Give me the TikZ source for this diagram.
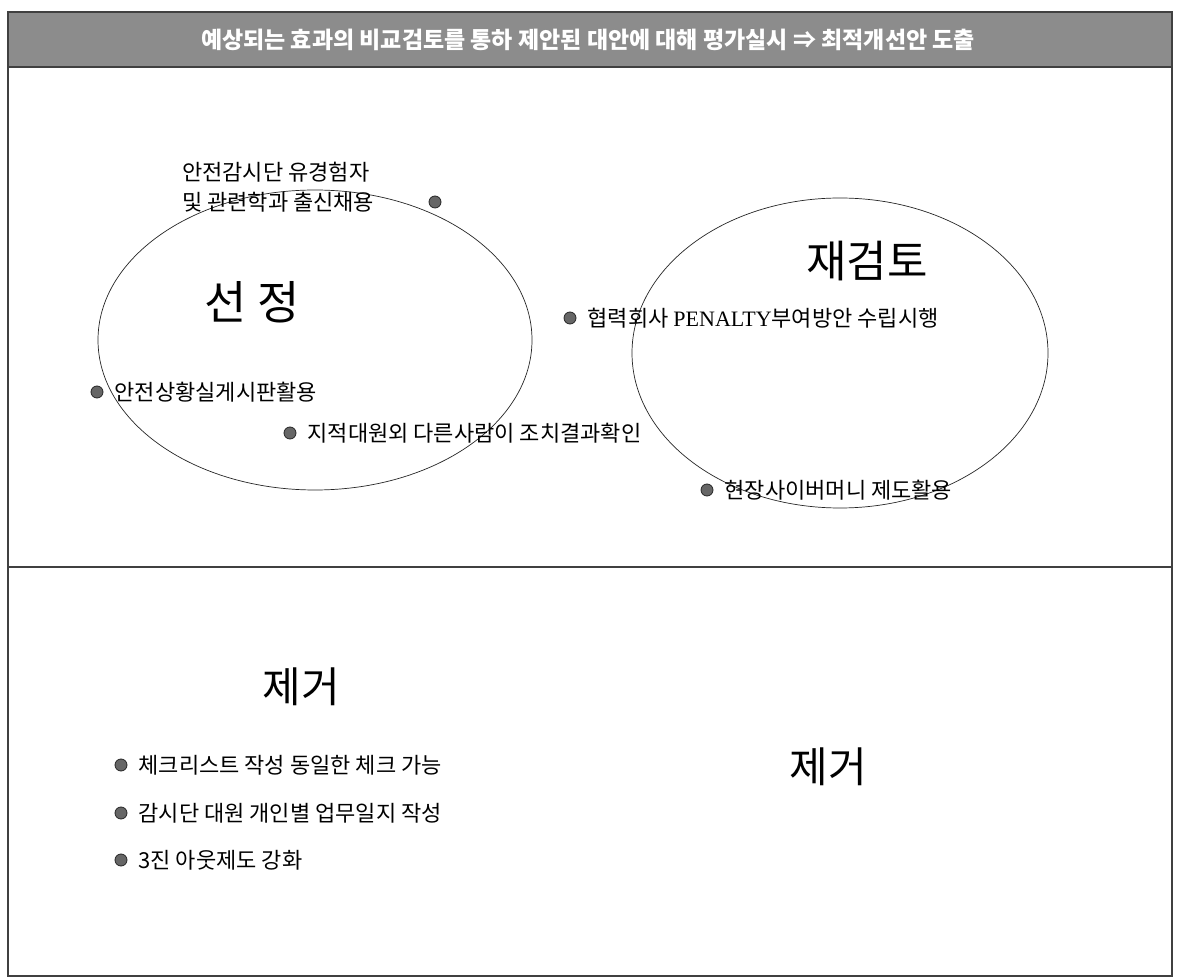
\documentclass[tikz,border=0pt]{standalone}
\usepackage{fontspec}
\setmainfont{Noto Sans CJK KR}
\newfontfamily\serifen{Liberation Serif}
\usetikzlibrary{positioning}

\begin{document}
\begin{tikzpicture}[x=1pt,y=1pt,
  dot/.style={circle,fill=black!60,draw=black!85,line width=0.8pt,minimum size=12pt,inner sep=0pt},
  item/.style={font=\fontsize{22}{30}\selectfont,inner sep=0pt,anchor=west},
  bigword/.style={font=\fontsize{44}{50}\selectfont,inner sep=0pt},
  ring/.style={draw=black!85,line width=0.7pt},
  frameline/.style={draw=black!75,line width=1.2pt}]
\useasboundingbox (0,0) rectangle (1177,978);
\fill[white] (0,0) rectangle (1177,978);
\draw[fill=black!45,frameline] (8,911) rectangle (1172,966);
\node[font=\fontsize{23}{27}\selectfont\bfseries,text=white] (title) at (588,938) {예상되는 효과의 비교검토를 통하 제안된 대안에 대해 평가실시 ⇒ 최적개선안 도출};
\draw[frameline] (8,911) -- (8,2) -- (1172,2) -- (1172,911);
\draw[frameline] (8,411) -- (1172,411);

\draw[ring] (315,638) ellipse [x radius=217,y radius=150];
\draw[ring] (840,625) ellipse [x radius=208,y radius=155];

\node[bigword,font=\fontsize{46}{52}\selectfont] (sunjung) at (252,676) {선 정};
\node[bigword] (jaegeomto) at (867,717) {재검토};

\node[dot] (d1) at (435,776) {};
\node[item,align=left] (t1) at (182,791) {안전감시단 유경험자\\및 관련학과 출신채용};
\node[dot] (d2) at (97,586) {};
\node[item,right=11pt of d2] (t2) {안전상황실게시판활용};
\node[dot] (d3) at (290,545) {};
\node[item,right=11pt of d3] (t3) {지적대원외 다른사람이 조치결과확인};
\node[dot] (d4) at (570,660) {};
\node[item,right=11pt of d4] (t4) {협력회사 {\serifen PENALTY}부여방안 수립시행};
\node[dot] (d5) at (707,488) {};
\node[item,right=11pt of d5] (t5) {현장사이버머니 제도활용};

\node[bigword,font=\fontsize{42}{48}\selectfont] (jegeo1) at (301,291) {제거};
\node[bigword,font=\fontsize{42}{48}\selectfont] (jegeo2) at (828,211) {제거};

\node[dot] (d6) at (121,213) {};
\node[item,right=11pt of d6] (t6) {체크리스트 작성 동일한 체크 가능};
\node[dot] (d7) at (121,165) {};
\node[item,right=11pt of d7] (t7) {감시단 대원 개인별 업무일지 작성};
\node[dot] (d8) at (121,118) {};
\node[item,right=11pt of d8] (t8) {3진 아웃제도 강화};

\end{tikzpicture}
\end{document}
